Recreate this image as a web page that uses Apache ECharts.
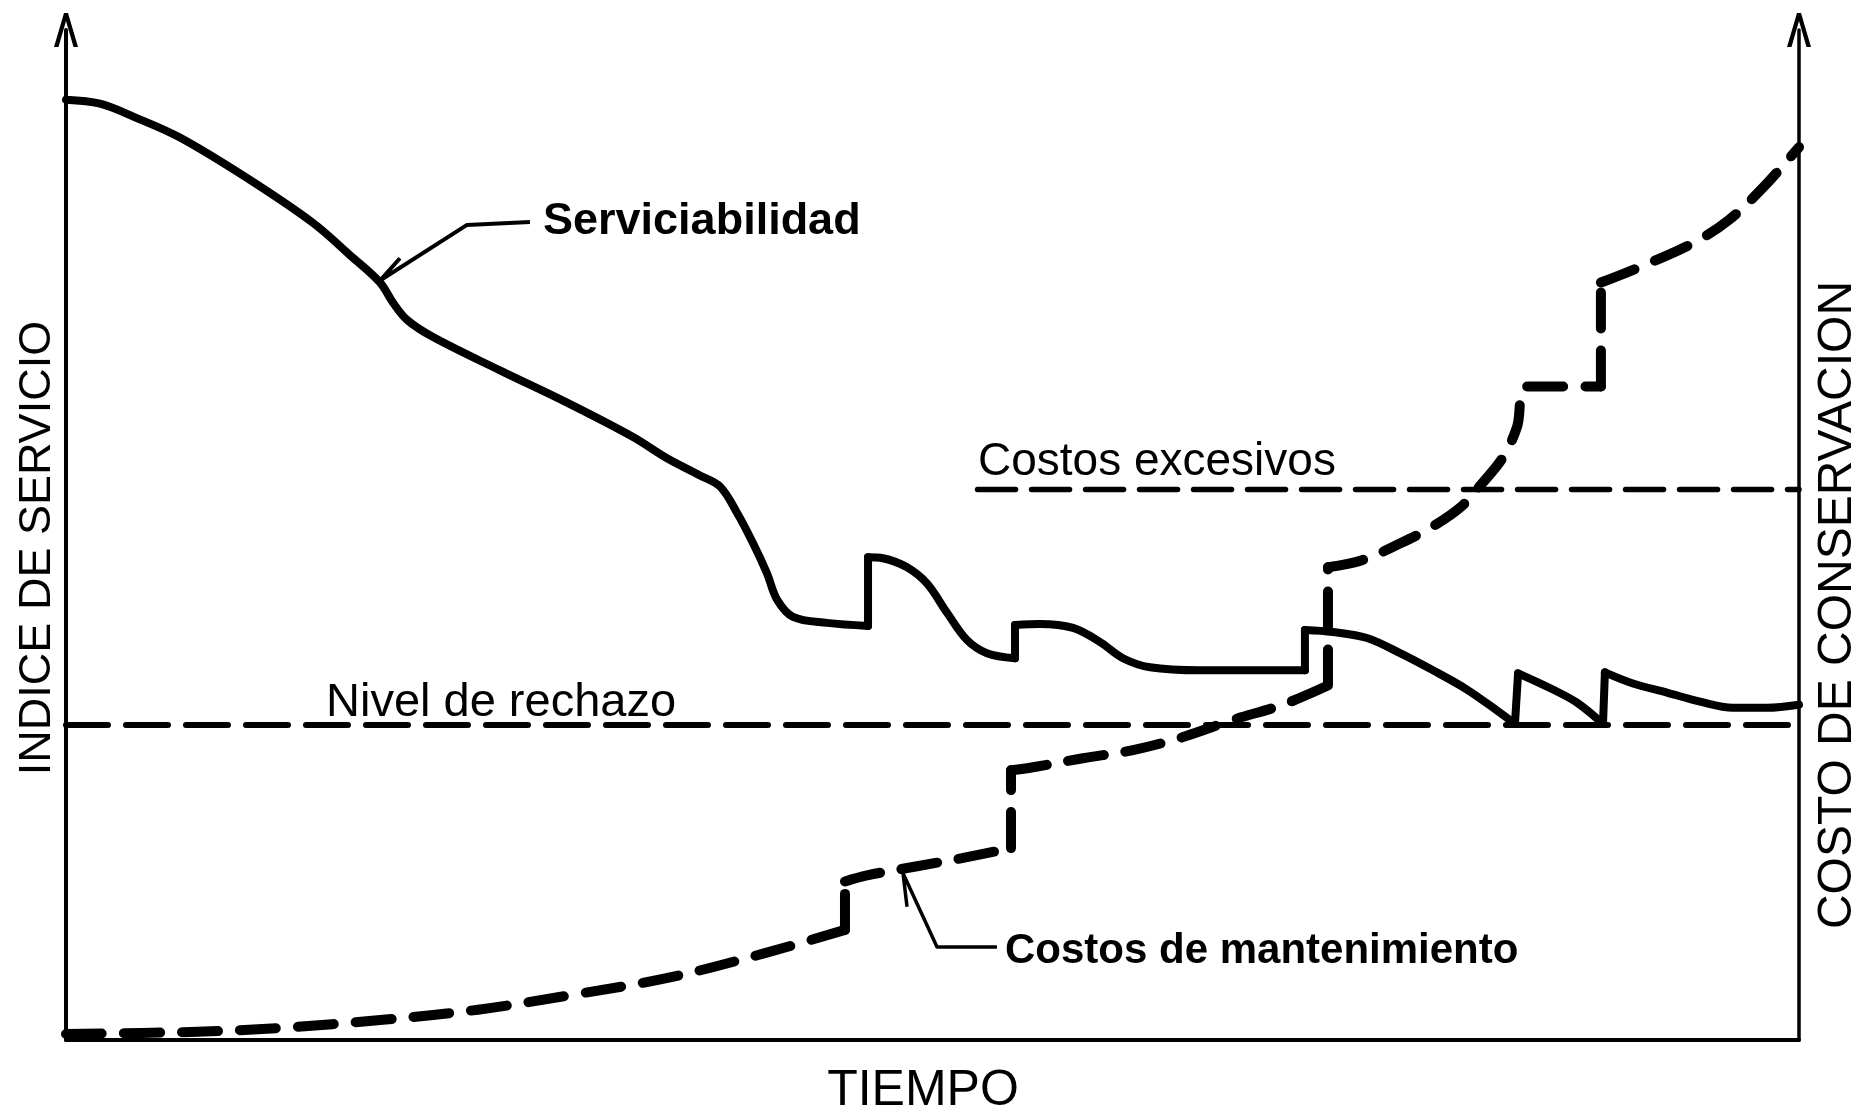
<!DOCTYPE html>
<html>
<head>
<meta charset="utf-8">
<title>Indice de servicio y costo de conservacion</title>
<script src="https://cdn.jsdelivr.net/npm/echarts@6/dist/echarts.min.js"></script>
<style>
  html, body { margin: 0; padding: 0; background: #fff; }
  #chart { width: 1859px; height: 1114px; }
</style>
</head>
<body>
<div id="chart"></div>
<script>
// escala esquematica: tiempo 0-100, indice / costo 0-100
const servX = [0, 1.96, 3.92, 6.52, 10.39, 14.25, 16.39, 18.12, 18.87, 19.68, 21.18, 25.04, 28.91, 32.72, 34.68,
  36.58, 37.74, 38.72, 39.64, 40.45, 41.03, 41.95, 43.91, 46.28, 46.28, 47.14, 48.53, 49.68, 50.84, 51.99,
  53.14, 54.76, 54.76, 56.20, 58.11, 59.67, 60.99, 62.55, 65.44, 71.49, 71.49, 73.11, 75.07, 76.98, 78.88,
  80.84, 82.75, 83.61, 83.79, 85.80, 87.19, 88.69, 88.80, 90.42, 92.38, 94.29, 96.19, 98.15, 100]
const servY = [93.1, 92.7, 91.4, 89.4, 85.4, 80.9, 77.7, 75.0, 73.0, 71.3, 69.6, 66.3, 63.1, 59.7, 57.6,
  55.9, 54.8, 52.2, 49.2, 46.2, 43.6, 41.9, 41.3, 41.0, 47.8, 47.7, 46.8, 45.2, 42.3, 39.6,
  38.3, 37.8, 41.1, 41.2, 40.8, 39.4, 37.8, 36.9, 36.6, 36.6, 40.6, 40.4, 39.8, 38.3, 36.6,
  34.7, 32.4, 31.3, 36.3, 34.7, 33.4, 31.3, 36.4, 35.3, 34.4, 33.5, 32.9, 32.9, 33.2]

const mantX = [0, 7.21, 12.41, 18.29, 23.77, 29.31, 34.85, 40.33, 44.95, 44.95, 46.22, 49.11, 51.99, 54.53, 54.53,
  55.80, 58.68, 61.57, 64.46, 67.34, 70.22, 72.82, 72.82, 74.78, 77.03, 78.82, 80.50, 81.71, 82.92, 83.73,
  84.30, 88.57, 88.57, 90.77, 93.88, 95.96, 97.98, 100]
const mantY = [0.6, 0.8, 1.2, 2.0, 3.0, 4.5, 6.2, 8.6, 10.9, 15.7, 16.3, 17.2, 18.1, 19.0, 26.7,
  27.0, 27.9, 28.7, 30.0, 31.7, 33.2, 35.1, 46.8, 47.5, 49.2, 50.8, 52.8, 55.1, 57.7, 60.7,
  64.7, 64.7, 75.0, 76.5, 78.9, 81.2, 84.5, 88.4]

const nivelRechazo = 31.2
const costosExcesivos = 54.5
const excesivosX = [52.6, 100]

// corta la curva en los saltos verticales: tramos suaves + saltos rectos
function splitSteps(xs, ys) {
  const parts = []
  let cur = [[xs[0], ys[0]]]
  for (let i = 1; i < xs.length; i++) {
    if (Math.abs(xs[i] - xs[i - 1]) < 0.25) {
      parts.push({ smooth: true, data: cur })
      parts.push({ smooth: false, data: [[xs[i - 1], ys[i - 1]], [xs[i], ys[i]]] })
      cur = [[xs[i], ys[i]]]
    } else {
      cur.push([xs[i], ys[i]])
    }
  }
  parts.push({ smooth: true, data: cur })
  return parts.filter(p => p.data.length > 1)
}

function curveSeries(name, xs, ys, lineStyle) {
  return splitSteps(xs, ys).map(p => ({
    name, type: 'line', symbol: 'none',
    smooth: p.smooth ? 0.35 : false,
    data: p.data,
    lineStyle
  }))
}

const chart = echarts.init(document.getElementById('chart'))

const arrow = 'path://M0,34 L10,0 L14,0 L24,34 L19.5,34 L12,8 L4.5,34 Z'
const font = '"Liberation Sans", Arial, sans-serif'

const hidden = { axisTick: { show: false }, axisLabel: { show: false }, splitLine: { show: false } }

chart.setOption({
  animation: false,
  backgroundColor: '#fff',
  grid: { left: 66, right: 60, top: 30, bottom: 74 },
  xAxis: {
    type: 'value', min: 0, max: 100,
    axisLine: { show: true, onZero: false, lineStyle: { color: '#000', width: 4 } },
    ...hidden
  },
  yAxis: [
    {
      type: 'value', min: 0, max: 100, position: 'left',
      axisLine: { show: true, onZero: false, symbol: ['none', arrow], symbolSize: [26, 34],
        lineStyle: { color: '#000', width: 4 } },
      ...hidden
    },
    {
      type: 'value', min: 0, max: 100, position: 'right',
      axisLine: { show: true, onZero: false, symbol: ['none', arrow], symbolSize: [26, 34],
        lineStyle: { color: '#000', width: 3.5 } },
      ...hidden
    }
  ],
  series: [
    {
      name: 'Nivel de rechazo', type: 'line', symbol: 'none',
      data: [[0, nivelRechazo], [100, nivelRechazo]],
      lineStyle: { color: '#000', width: 6, type: [42, 18], cap: 'round' }
    },
    {
      name: 'Costos excesivos', type: 'line', symbol: 'none',
      data: excesivosX.map(x => [x, costosExcesivos]),
      lineStyle: { color: '#000', width: 5.5, type: [38, 16], cap: 'round' }
    },
    ...curveSeries('Costos de mantenimiento', mantX, mantY,
      { color: '#000', width: 10, type: [36, 22], cap: 'round', join: 'round' }),
    ...curveSeries('Serviciabilidad', servX, servY,
      { color: '#000', width: 8, join: 'round', cap: 'round' }),
    // lineas guia de las leyendas
    {
      type: 'line', symbol: 'none',
      data: [[26.77, 81.0], [23.14, 80.7], [18.12, 75.2], [19.27, 77.4]],
      lineStyle: { color: '#000', width: 4, join: 'round' }
    },
    {
      type: 'line', symbol: 'none',
      data: [[53.72, 9.2], [50.26, 9.2], [48.30, 16.5], [48.53, 13.2]],
      lineStyle: { color: '#000', width: 3.5, join: 'round' }
    }
  ],
  graphic: [
    { type: 'text', x: 543, y: 222, style: { text: 'Serviciabilidad', font: 'bold 45px ' + font, fill: '#000', align: 'left', verticalAlign: 'middle' } },
    { type: 'text', x: 978, y: 462, style: { text: 'Costos excesivos', font: '46px ' + font, fill: '#000', align: 'left', verticalAlign: 'middle' } },
    { type: 'text', x: 326, y: 703, style: { text: 'Nivel de rechazo', font: '47px ' + font, fill: '#000', align: 'left', verticalAlign: 'middle' } },
    { type: 'text', x: 1005, y: 951, style: { text: 'Costos de mantenimiento', font: 'bold 42px ' + font, fill: '#000', align: 'left', verticalAlign: 'middle' } },
    { type: 'text', x: 923, y: 1091, style: { text: 'TIEMPO', font: '50px ' + font, fill: '#000', align: 'center', verticalAlign: 'middle' } },
    { type: 'text', x: 38, y: 548, rotation: Math.PI / 2, style: { text: 'INDICE DE SERVICIO', font: '45px ' + font, fill: '#000', align: 'center', verticalAlign: 'middle' } },
    { type: 'text', x: 1838, y: 605, rotation: Math.PI / 2, style: { text: 'COSTO DE CONSERVACION', font: '48px ' + font, fill: '#000', align: 'center', verticalAlign: 'middle' } }
  ]
})
</script>
</body>
</html>
